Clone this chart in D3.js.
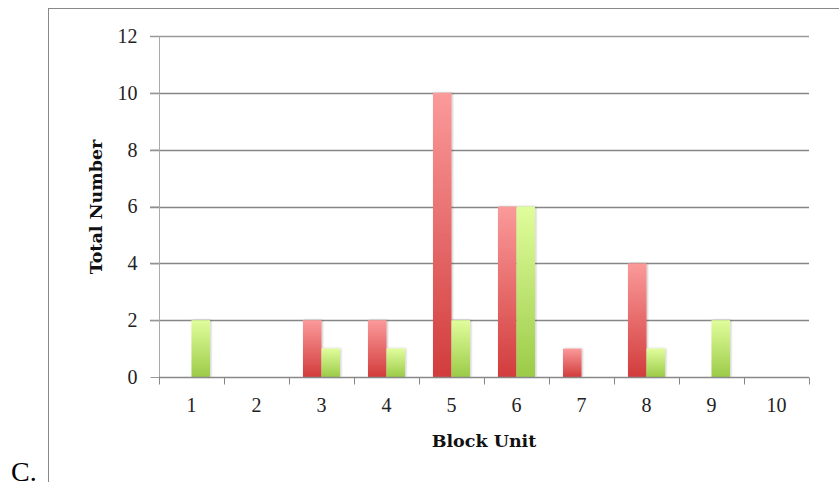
<!DOCTYPE html>
<html><head><meta charset="utf-8">
<script src="https://cdn.jsdelivr.net/npm/d3@7/dist/d3.min.js"></script>
<style>body{margin:0;background:#fff}</style>
</head><body>
<svg id="c" width="839" height="493"></svg>
<script>
const categories = ["1","2","3","4","5","6","7","8","9","10"];
const redValues   = [0,0,2,2,10,6,1,4,0,0];
const greenValues = [2,0,1,1,2,6,0,1,2,0];
const yTicks = [0,2,4,6,8,10,12];

const svg = d3.select("#c");
const m = {left:159, right:809, top:36, bottom:377};
const serif = "'Liberation Serif','Times New Roman',serif";

const defs = svg.append("defs");
const gr = defs.append("linearGradient").attr("id","gRed").attr("x1",0).attr("y1",0).attr("x2",0).attr("y2",1);
gr.append("stop").attr("offset","0%").attr("stop-color","#fb9a9a");
gr.append("stop").attr("offset","100%").attr("stop-color","#d23c3c");
const gg = defs.append("linearGradient").attr("id","gGreen").attr("x1",0).attr("y1",0).attr("x2",0).attr("y2",1);
gg.append("stop").attr("offset","0%").attr("stop-color","#e0fd9c");
gg.append("stop").attr("offset","100%").attr("stop-color","#9ccb48");
const f = defs.append("filter").attr("id","sh").attr("x","-30%").attr("y","-10%").attr("width","160%").attr("height","120%");
f.append("feGaussianBlur").attr("in","SourceAlpha").attr("stdDeviation",1.2).attr("result","b");
f.append("feOffset").attr("in","b").attr("dx",0.5).attr("dy",0).attr("result","o");
f.append("feComponentTransfer").attr("in","o").attr("result","o2").append("feFuncA").attr("type","linear").attr("slope",0.25);
const mg = f.append("feMerge"); mg.append("feMergeNode").attr("in","o2"); mg.append("feMergeNode").attr("in","SourceGraphic");

// frame
svg.append("line").attr("x1",48.5).attr("x2",48.5).attr("y1",8).attr("y2",482).attr("stroke","#888").attr("stroke-width",1);
svg.append("line").attr("x1",48).attr("x2",839).attr("y1",8.5).attr("y2",8.5).attr("stroke","#888").attr("stroke-width",1);

const x = d3.scaleBand().domain(categories).range([m.left, m.right]);
const y = d3.scaleLinear().domain([0,12]).range([m.bottom, m.top]);

// grid
svg.append("g").selectAll("line").data(yTicks.filter(d=>d>0)).join("line")
  .attr("x1",150).attr("x2",m.right)
  .attr("y1",d=>Math.round(y(d))+0.5).attr("y2",d=>Math.round(y(d))+0.5)
  .attr("stroke",d=>d===12?"#9a9a9a":"#868686").attr("stroke-width",1.3);

// y axis
const ya = svg.append("g").attr("transform",`translate(${m.left+0.5},0)`)
  .call(d3.axisLeft(y).tickValues(yTicks).tickSize(9).tickPadding(13));
ya.select(".domain").attr("stroke","#aaa").attr("d",`M0,${y(12)}V${y(0)}`);
ya.selectAll(".tick line").attr("stroke","#999");
ya.selectAll("text").style("font-family",serif).style("font-size","20px").attr("fill","#222");

// bars
const bw = x.bandwidth()*0.285;
const bars = svg.append("g").attr("filter","url(#sh)");
categories.forEach((c,i)=>{
  const cx = x(c)+x.bandwidth()/2;
  if(redValues[i]>0) bars.append("rect").attr("x",cx-bw).attr("width",bw)
    .attr("y",y(redValues[i])).attr("height",y(0)-y(redValues[i])).attr("fill","url(#gRed)");
  if(greenValues[i]>0) bars.append("rect").attr("x",cx).attr("width",bw)
    .attr("y",y(greenValues[i])).attr("height",y(0)-y(greenValues[i])).attr("fill","url(#gGreen)");
});

// x axis
const xa = svg.append("g").attr("transform",`translate(0,${m.bottom+0.5})`)
  .call(d3.axisBottom(x).tickSize(0).tickPadding(20));
xa.select(".domain").attr("stroke","#888").attr("stroke-width",1.3).attr("d",`M${m.left},0H${m.right}`);
xa.selectAll("text").style("font-family",serif).style("font-size","20px").attr("fill","#222");
const edges = categories.map(c=>x(c)).concat([m.right]);
xa.append("g").selectAll("line").data(edges).join("line")
  .attr("x1",d=>Math.round(d)+0.5).attr("x2",d=>Math.round(d)+0.5).attr("y1",0).attr("y2",7).attr("stroke","#888");

// axis titles
svg.append("text").attr("x",(m.left+m.right)/2).attr("y",447).attr("text-anchor","middle")
  .style("font-family","'DejaVu Serif','Liberation Serif',serif").style("font-weight","bold").style("font-size","17.5px").attr("fill","#111").text("Block Unit");
svg.append("text").attr("transform",`translate(102,207) rotate(-90)`).attr("text-anchor","middle")
  .style("font-family","'DejaVu Serif','Liberation Serif',serif").style("font-weight","bold").style("font-size","17.5px").attr("fill","#111").text("Total Number");

// panel label
svg.append("text").attr("x",11).attr("y",481).style("font-family",serif).style("font-size","28px").attr("fill","#000").text("C.");
</script>
</body></html>
